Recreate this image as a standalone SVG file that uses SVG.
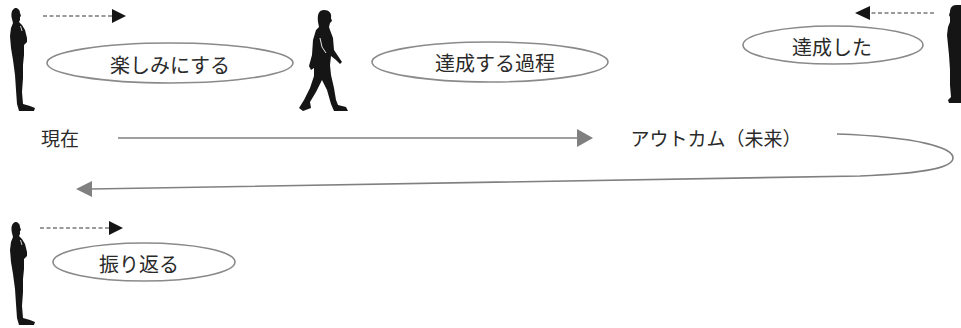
<svg xmlns="http://www.w3.org/2000/svg" width="961" height="328" viewBox="0 0 961 328">
  <style>
    .fig { fill: #151515; }
    .oval { fill: #ffffff; stroke: #8a8a8a; stroke-width: 1.6; }
    .lbl { font-family: "Noto Sans CJK JP", "Noto Sans", sans-serif; font-size: 20px; fill: #2a2a2a; text-anchor: middle; dominant-baseline: central; }
    .tl { font-family: "Noto Sans CJK JP", "Noto Sans", sans-serif; font-size: 19px; fill: #2a2a2a; text-anchor: middle; dominant-baseline: central; }
    .dash { stroke: #7a7a7a; stroke-width: 1.4; stroke-dasharray: 4 2.5; fill: none; }
    .line { stroke: #808080; stroke-width: 1.6; fill: none; }
    .head { fill: #151515; }
    .ahead { fill: #808080; }
  </style>
  <defs>
    <!-- standing man in profile, hand at chin -->
    <symbol id="stand" viewBox="0 0 40 115" width="40" height="115" overflow="visible">
      <path d="M15,8 C18,8 20,10 20,13 L21,16 L20,17 L20,20 L19,22 L22,25 L25,30 L27,38 L27,42 L24,45 L24,55 L23,65 L23,78 L22,92 L23,104 L30,106 L35,108 L34,111 L19,111 L17,104 L16,90 L15,75 L13,60 L11,48 L10,36 L11,28 L13,23 L12,19 C11,15 11,10 15,8 Z"/>
      <path d="M20.5,26 L22,31" stroke="#ffffff" stroke-width="0.8" fill="none"/>
    </symbol>
  </defs>

  <!-- people -->
  <g id="person-now" class="fig">
    <use href="#stand" x="0" y="0"/>
  </g>
  <g id="person-walking" class="fig">
    <path d="M324,10 C329,10 332,13 331,18 L332,21 L330,23 L329,27 L330,30 L333,38 L334,50 L338,56 L342,62 L340,64 L336,60 L331,56 L330,65 L331,75 L334,88 L336,100 L338,105 L346,107 L348,111 L334,111 L331,104 L327,90 L322,80 L316,92 L310,102 L311,108 L303,111 L299,108 L304,100 L310,88 L314,76 L314,68 L311,70 L309,66 L312,55 L313,40 L316,30 L319,27 L318,22 C317,14 319,10 324,10 Z"/>
    <path d="M320,38 L322,47 L326,53" stroke="#ffffff" stroke-width="0.9" fill="none"/>
  </g>
  <g id="person-done" class="fig">
    <path d="M956,5 C952,5 950,8 950,12 L949,15 L950,17 L950,22 L948,27 L947,35 L948,45 L949,55 L950,70 L950,85 L951,97 L948,100 L949,103 L961,103 L961,5 Z"/>
  </g>
  <g id="person-review" class="fig">
    <use href="#stand" x="0" y="214"/>
  </g>

  <!-- labelled ovals -->
  <g id="oval-enjoy">
    <ellipse class="oval" cx="170" cy="63" rx="123" ry="20"/>
    <text class="lbl" x="170" y="64">楽しみにする</text>
  </g>
  <g id="oval-process">
    <ellipse class="oval" cx="490" cy="62" rx="118" ry="20"/>
    <text class="lbl" x="495" y="62.5">達成する過程</text>
  </g>
  <g id="oval-achieved">
    <ellipse class="oval" cx="833" cy="45" rx="90" ry="19"/>
    <text class="lbl" x="832" y="46.5">達成した</text>
  </g>
  <g id="oval-review">
    <ellipse class="oval" cx="144" cy="262" rx="91" ry="19"/>
    <text class="lbl" x="139" y="263">振り返る</text>
  </g>

  <!-- timeline labels -->
  <g id="label-now">
    <text class="tl" x="60" y="137">現在</text>
  </g>
  <g id="label-outcome">
    <text class="tl" x="716" y="137.5">アウトカム（未来）</text>
  </g>

  <!-- connectors -->
  <g id="connectors">
    <path class="dash" d="M43,16 L112,16"/>
    <path class="head" d="M126,16 L112,9 L112,23 Z"/>
    <path class="dash" d="M934,13 L870,13"/>
    <path class="head" d="M855,13 L870,6 L870,20 Z"/>
    <path class="dash" d="M40,228 L109,228"/>
    <path class="head" d="M123,228 L109,221 L109,235 Z"/>

    <path class="line" d="M118,138 L578,138"/>
    <path class="ahead" d="M593,138 L577,129 L577,147 Z"/>
    <path class="line" d="M837,134 C920,137 953,148 953,158 C953,170 910,174 860,176 L91,189"/>
    <path class="ahead" d="M76,189 L92,181 L92,197 Z"/>
  </g>
</svg>
